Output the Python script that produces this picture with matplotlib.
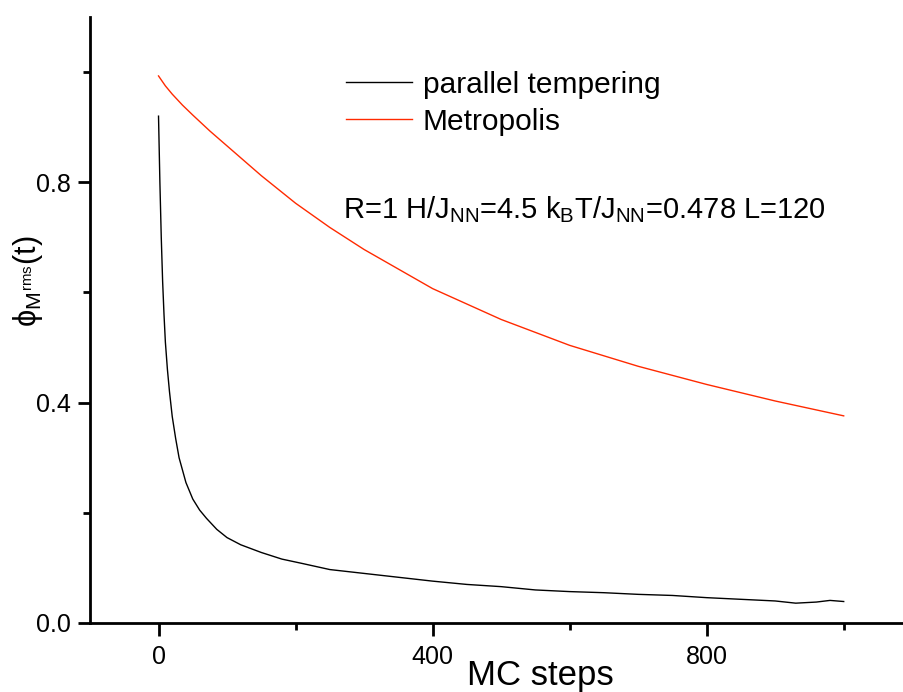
import matplotlib
matplotlib.use("Agg")
import matplotlib.pyplot as plt
from matplotlib.ticker import MultipleLocator

# data
steps_pt = [0, 2, 4, 6, 8, 10, 13, 16, 20, 25, 30, 40, 50, 60, 70, 85, 100, 120, 150, 180,
            210, 250, 300, 350, 400, 450, 500, 550, 600, 650, 700, 750, 800, 850, 900,
            930, 960, 980, 1000]
phi_pt = [0.92, 0.80, 0.70, 0.62, 0.56, 0.51, 0.46, 0.42, 0.375, 0.335, 0.30, 0.255,
          0.225, 0.205, 0.19, 0.17, 0.155, 0.142, 0.128, 0.116, 0.108, 0.097, 0.090,
          0.083, 0.076, 0.070, 0.066, 0.060, 0.057, 0.055, 0.052, 0.050, 0.046, 0.043,
          0.040, 0.036, 0.038, 0.041, 0.039]

steps_met = [0, 10, 20, 35, 50, 75, 100, 150, 200, 250, 300, 400, 500, 600, 700, 800,
             900, 1000]
phi_met = [0.993, 0.975, 0.96, 0.94, 0.922, 0.893, 0.866, 0.812, 0.762, 0.718, 0.678,
           0.607, 0.551, 0.504, 0.466, 0.433, 0.403, 0.376]

plt.rcParams['font.family'] = ['Liberation Sans', 'DejaVu Sans']
plt.rcParams['mathtext.fontset'] = 'custom'
plt.rcParams['mathtext.rm'] = 'Liberation Sans'
plt.rcParams['mathtext.it'] = 'Liberation Sans'
plt.rcParams['mathtext.bf'] = 'Liberation Sans:bold'

fig = plt.figure(figsize=(9.04, 6.92), dpi=100)
ax = fig.add_axes([90 / 904, 1 - 623 / 692, 1 - 90 / 904, (623 - 17) / 692])

ax.plot(steps_pt, phi_pt, color='black', lw=1.0, label='parallel tempering')
ax.plot(steps_met, phi_met, color='#ff2a00', lw=1.0, label='Metropolis')

ax.set_xlim(-100, 1088)
ax.set_ylim(0, 1.1)
ax.spines['top'].set_visible(False)
ax.spines['right'].set_visible(False)
ax.spines['left'].set_linewidth(2)
ax.spines['bottom'].set_linewidth(2)

ax.xaxis.set_major_locator(MultipleLocator(400))
ax.xaxis.set_minor_locator(MultipleLocator(200))
ax.set_yticks([0.0, 0.4, 0.8])
ax.set_yticklabels(['0.0', '0.4', '0.8'])
ax.yaxis.set_minor_locator(MultipleLocator(0.2))
ax.tick_params(which='major', direction='out', length=9, width=2)
ax.tick_params(which='minor', direction='out', length=5, width=2)
ax.tick_params(axis='y', labelsize=18, pad=5)
ax.tick_params(axis='x', labelsize=18, pad=7)

ax.set_xlabel('MC steps', fontsize=25)
ax.xaxis.set_label_coords(0.553, -0.06)
ax.set_ylabel(r'$\phi_{M^{rms}}$(t)', fontsize=22)
ax.yaxis.set_label_coords(-0.055, (623 - 281) / 606)

ax.legend(loc='upper left', bbox_to_anchor=(0.30, 0.931), frameon=False,
          fontsize=21.5, handlelength=2.2, handletextpad=0.37, labelspacing=0.3,
          borderaxespad=0)

ax.text(0.311, 0.668, r'R=1 H/J$_{\mathrm{NN}}$=4.5 k$_{\mathrm{B}}$T/J$_{\mathrm{NN}}$=0.478 L=120',
        transform=ax.transAxes, fontsize=21, va='baseline', ha='left')

fig.savefig('out.png', dpi=100)
